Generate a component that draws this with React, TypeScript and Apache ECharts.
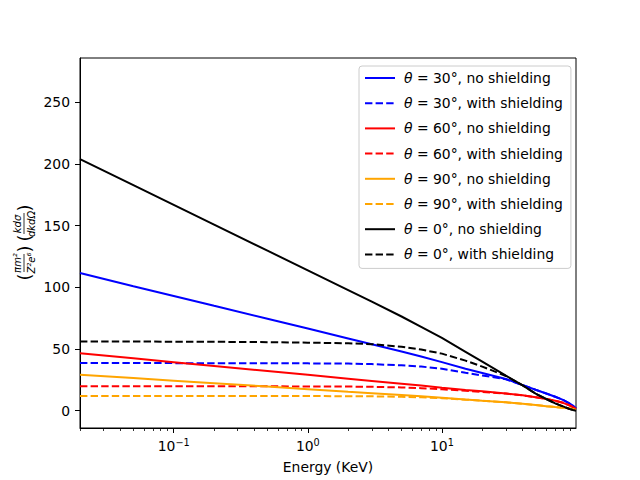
import React, { useEffect, useRef } from "react";
import * as echarts from "echarts";

const energies = [0.02, 0.05, 0.1, 0.2, 0.5, 1, 2, 3, 5, 7, 10, 15, 20, 30, 40, 50, 60, 70, 80, 90, 95, 100];
const theta30No = [111.6, 101.0, 93.1, 85.1, 74.6, 66.6, 58.6, 53.9, 48.0, 44.0, 39.4, 34.0, 30.6, 25.7, 20.8, 17.0, 14.0, 11.3, 8.8, 5.8, 4.0, 1.8];
const theta30With = [38.7, 38.7, 38.6, 38.6, 38.5, 38.4, 38.2, 37.8, 36.8, 35.8, 34.1, 30.8, 28.6, 25.5, 20.8, 17.0, 14.0, 11.3, 8.8, 5.8, 4.0, 1.8];
const theta60No = [46.6, 42.5, 39.4, 36.3, 32.2, 29.1, 26.0, 24.2, 21.9, 20.4, 18.7, 16.9, 15.8, 14.0, 12.5, 10.9, 9.6, 8.1, 6.4, 4.2, 3.0, 1.6];
const theta60With = [19.8, 19.8, 19.8, 19.8, 19.8, 19.7, 19.6, 19.4, 18.9, 18.3, 17.4, 16.2, 15.3, 13.9, 12.5, 10.9, 9.6, 8.1, 6.4, 4.2, 3.0, 1.6];
const theta90No = [29.2, 26.5, 24.4, 22.3, 19.6, 17.5, 15.4, 14.2, 12.7, 11.7, 10.6, 9.1, 8.1, 6.8, 5.6, 4.6, 3.7, 3.0, 2.4, 1.8, 1.3, 0.7];
const theta90With = [11.9, 11.9, 11.9, 11.9, 11.9, 11.9, 11.8, 11.7, 11.3, 10.9, 10.2, 9.0, 8.1, 6.8, 5.6, 4.6, 3.7, 3.0, 2.4, 1.8, 1.3, 0.7];
const theta0No = [204.0, 182.9, 166.9, 150.9, 129.8, 113.8, 97.8, 88.4, 76.4, 68.0, 59.0, 47.8, 39.8, 28.4, 20.5, 13.8, 9.5, 6.0, 3.5, 1.3, 0.6, 0.0];
const theta0With = [56.1, 56.1, 56.0, 55.9, 55.6, 55.2, 54.7, 54.0, 51.8, 49.6, 46.3, 40.6, 35.8, 28.2, 20.5, 13.8, 9.5, 6.0, 3.5, 1.3, 0.6, 0.0];

const xMajorTicks = [0.1, 1, 10];
const xMinorTicks = [0.02, 0.03, 0.04, 0.05, 0.06, 0.07, 0.08, 0.09, 0.2, 0.3, 0.4, 0.5, 0.6, 0.7, 0.8, 0.9, 2, 3, 4, 5, 6, 7, 8, 9, 20, 30, 40, 50, 60, 70, 80, 90];
const yTicks = [0, 50, 100, 150, 200, 250];
const xRange = [0.02, 100];
const yRange = [-14, 286];

const FONT = "DejaVu Sans";

const seriesDefs = [
  { name: "30|no shielding", values: theta30No, color: "#0000ff", dashed: false },
  { name: "30|with shielding", values: theta30With, color: "#0000ff", dashed: true },
  { name: "60|no shielding", values: theta60No, color: "#ff0000", dashed: false },
  { name: "60|with shielding", values: theta60With, color: "#ff0000", dashed: true },
  { name: "90|no shielding", values: theta90No, color: "#ffa500", dashed: false },
  { name: "90|with shielding", values: theta90With, color: "#ffa500", dashed: true },
  { name: "0|no shielding", values: theta0No, color: "#000000", dashed: false },
  { name: "0|with shielding", values: theta0With, color: "#000000", dashed: true },
];

const lg = (v: number) => Math.log10(v);

export default function App() {
  const ref = useRef<HTMLDivElement>(null);
  useEffect(() => {
    if (!ref.current) return;
    const chart = echarts.init(ref.current, null, { renderer: "svg" });
    const fracText = (text: string, x: number, y: number) => ({
      type: "text",
      x,
      y,
      style: { text, fontSize: 10, fontFamily: FONT, fontStyle: "italic", fill: "#000", align: "center", verticalAlign: "middle" },
    });
    const paren = (text: string, x: number) => ({
      type: "text",
      x,
      y: 0,
      style: { text, fontSize: 18, fontFamily: FONT, fill: "#000", align: "center", verticalAlign: "middle" },
    });
    chart.setOption({
      animation: false,
      backgroundColor: "#ffffff",
      grid: { left: 80, top: 58, width: 496, height: 370, show: true, borderColor: "#000", borderWidth: 1, backgroundColor: "transparent" },
      xAxis: [
        {
          type: "value",
          min: lg(xRange[0]),
          max: lg(xRange[1]),
          position: "bottom",
          splitLine: { show: false },
          axisLine: { show: true, onZero: false, lineStyle: { color: "#000", width: 1 } },
          axisTick: { show: true, length: 5, lineStyle: { color: "#000", width: 1 }, customValues: xMajorTicks.map(lg) },
          axisLabel: {
            customValues: xMajorTicks.map(lg),
            margin: 9,
            formatter: (v: number) => {
              const e = Math.round(v);
              return `{b|10}{s|${e < 0 ? "\u2212" + -e : e}}`;
            },
            rich: {
              b: { fontSize: 13.9, fontFamily: FONT, color: "#000" },
              s: { fontSize: 9.7, fontFamily: FONT, color: "#000", padding: [0, 0, 8, 0] },
            },
          },
          name: "Energy (KeV)",
          nameLocation: "middle",
          nameGap: 32,
          nameTextStyle: { fontSize: 13.9, fontFamily: FONT, color: "#000" },
        },
        {
          type: "value",
          min: lg(xRange[0]),
          max: lg(xRange[1]),
          position: "bottom",
          offset: 0,
          splitLine: { show: false },
          axisLine: { show: false, onZero: false },
          axisLabel: { show: false },
          axisTick: { show: true, length: 3, lineStyle: { color: "#000", width: 0.8 }, customValues: xMinorTicks.map(lg) },
        },
      ],
      yAxis: {
        type: "value",
        min: yRange[0],
        max: yRange[1],
        splitLine: { show: false },
        axisLine: { show: true, onZero: false, lineStyle: { color: "#000", width: 1 } },
        axisTick: { show: true, length: 5, lineStyle: { color: "#000", width: 1 }, customValues: yTicks },
        axisLabel: { customValues: yTicks, margin: 10, fontSize: 13.9, fontFamily: FONT, color: "#000" },
      },
      legend: {
        orient: "vertical",
        left: 359,
        top: 66,
        padding: [5, 8, 7, 5],
        itemWidth: 30,
        itemHeight: 14,
        itemGap: 11.2,
        backgroundColor: "rgba(255,255,255,0.8)",
        borderColor: "#cccccc",
        borderWidth: 1,
        borderRadius: 3,
        itemStyle: { opacity: 0 },
        data: seriesDefs.map((s) => s.name),
        formatter: (name: string) => {
          const [ang, txt] = name.split("|");
          return `{i|\u03b8} = ${ang}\u00b0, ${txt}`;
        },
        textStyle: {
          fontSize: 13.9,
          fontFamily: FONT,
          color: "#000",
          padding: [0, 0, 0, 4],
          rich: { i: { fontStyle: "italic", fontSize: 13.9, fontFamily: FONT, color: "#000" } },
        },
      },
      series: seriesDefs.map((s) => ({
        name: s.name,
        type: "line",
        xAxisIndex: 0,
        yAxisIndex: 0,
        symbol: "none",
        showSymbol: false,
        smooth: false,
        data: energies.map((e, i) => [lg(e), s.values[i]]),
        lineStyle: { color: s.color, width: 2, type: s.dashed ? [7.4, 3.2] : "solid" },
        itemStyle: { color: s.color },
        clip: true,
      })),
      graphic: [
        {
          type: "group",
          x: 24,
          y: 238,
          rotation: Math.PI / 2,
          children: [
            paren("(", -39),
            fracText("\u03c0m\u00b2", -25, -7),
            { type: "line", shape: { x1: -34, y1: 0, x2: -16, y2: 0 }, style: { stroke: "#000", lineWidth: 0.8 } },
            fracText("Z\u00b2e\u2076", -25, 7),
            paren(")", -11),
            paren("(", 0),
            fracText("kd\u03c3", 14, -7),
            { type: "line", shape: { x1: 4, y1: 0, x2: 25, y2: 0 }, style: { stroke: "#000", lineWidth: 0.8 } },
            fracText("dkd\u03a9", 14, 7),
            paren(")", 30),
          ],
        },
      ],
    });
    return () => chart.dispose();
  }, []);
  return <div ref={ref} style={{ position: "fixed", left: 0, top: 0, width: 640, height: 480 }} />;
}
